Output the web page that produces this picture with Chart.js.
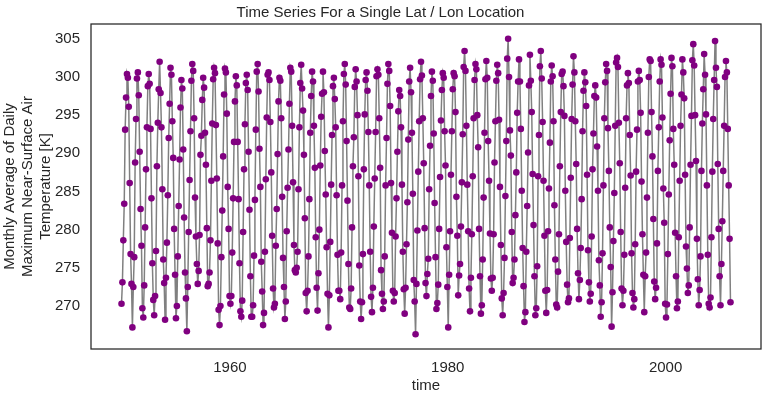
<!DOCTYPE html>
<html>
<head>
<meta charset="utf-8">
<script src="https://cdn.jsdelivr.net/npm/chart.js@4"></script>
<style>
  html, body { margin: 0; padding: 0; background: #fff; }
  canvas { display: block; }
</style>
</head>
<body>
<canvas id="myChart" width="767" height="399"></canvas>
<script>
// monthly tmax [K], one row per year, Jan..Dec
const tmax1950s = [
  270.3, 273.1, 278.6, 283.4, 293.1, 297.3, 300.4, 299.9, 296.1, 286.1, 276.8, 272.9,
  267.2, 272.5, 276.4, 288.8, 294.5, 299.8, 300.6, 297.6, 290.2, 282.7, 277.9, 269.7,
  268.5, 272.7, 280.3, 287.9, 293.4, 298.8, 300.4, 299.1, 293.2, 284.1, 275.6, 270.8,
  268.8, 271.3, 277.2, 288.3, 294.0, 298.4, 302.0, 297.9, 293.4, 285.3, 276.1, 273.0,
  268.2, 273.7, 278.3, 284.5, 292.0, 296.5, 301.2, 300.3, 294.2, 289.4, 280.1, 274.1,
  268.4, 270.0, 276.5, 283.1, 289.2, 296.0, 299.6, 298.5, 290.5, 281.6, 274.4, 271.0,
  266.7, 272.5, 279.7, 286.5, 292.9, 299.5, 301.7, 300.8, 294.6, 284.2, 279.1, 275.5,
  272.9, 274.6, 279.3, 289.8, 292.3, 297.0, 299.9, 298.6, 292.7, 288.5, 280.2, 272.6,
  272.9, 274.4, 278.6, 286.4, 293.9, 299.7, 301.2, 300.5, 293.7, 286.7, 278.2, 269.5,
  267.5, 270.0, 276.4, 282.5, 289.6, 297.7, 301.1, 300.6, 295.2, 285.6, 280.1, 271.3
]
const tmax1960s = [
  270.3, 271.3, 277.0, 284.1, 291.5, 296.8, 300.1, 298.9, 291.5, 284.0, 275.6, 269.3,
  268.6, 270.7, 279.7, 287.9, 293.8, 299.2, 300.3, 298.3, 290.2, 282.6, 273.9, 268.6,
  268.6, 270.1, 276.6, 283.9, 293.1, 300.7, 301.7, 298.1, 290.6, 285.6, 275.8, 271.9,
  267.5, 269.1, 277.1, 286.6, 294.7, 300.3, 300.6, 299.6, 294.1, 287.5, 279.2, 272.3,
  269.8, 270.3, 277.9, 282.7, 289.9, 296.8, 299.9, 299.5, 294.6, 284.3, 276.3, 272.5,
  268.3, 270.6, 279.8, 285.5, 290.5, 296.5, 301.2, 300.7, 293.6, 286.2, 278.0, 274.7,
  274.4, 275.0, 277.1, 285.3, 293.4, 299.2, 301.6, 298.5, 295.6, 289.8, 281.5, 271.7,
  269.3, 272.0, 276.5, 284.0, 292.7, 297.5, 300.7, 299.4, 293.6, 288.1, 279.0, 272.4,
  269.4, 274.3, 280.0, 288.4, 294.8, 297.8, 300.7, 298.0, 290.3, 284.6, 277.7, 271.6,
  267.2, 271.4, 278.4, 285.9, 292.4, 298.8, 299.9, 297.1, 293.4, 284.5, 276.7, 272.0
]
const tmax1970s = [
  272.0, 270.9, 277.0, 285.8, 294.2, 300.4, 301.7, 299.0, 291.6, 283.8, 275.5, 269.8,
  269.6, 272.3, 280.3, 288.3, 292.1, 298.7, 301.0, 299.4, 295.0, 287.0, 275.3, 270.6,
  268.3, 270.5, 276.8, 287.9, 295.1, 299.6, 300.6, 298.2, 292.8, 285.8, 277.1, 271.2,
  269.2, 272.4, 280.4, 286.7, 292.8, 300.1, 301.0, 300.3, 294.6, 288.1, 274.7, 271.6,
  269.6, 270.6, 276.5, 285.8, 292.0, 299.1, 301.7, 300.8, 296.2, 286.1, 279.6, 272.0,
  270.6, 271.7, 279.1, 284.1, 290.2, 295.5, 298.3, 297.5, 293.4, 285.9, 277.1, 272.2,
  269.0, 272.4, 278.1, 283.6, 291.8, 299.4, 301.2, 298.0, 292.7, 284.7, 273.4, 270.6,
  266.3, 272.9, 279.9, 287.6, 294.2, 299.7, 302.0, 300.2, 294.6, 288.7, 280.2, 273.0,
  271.3, 274.2, 276.2, 285.3, 291.0, 297.5, 300.7, 299.5, 292.6, 283.5, 276.4, 269.6,
  270.4, 272.8, 280.1, 286.9, 294.3, 298.3, 300.5, 299.9, 292.9, 288.4, 277.7, 272.5
]
const tmax1980s = [
  267.2, 274.1, 279.8, 287.2, 292.9, 298.4, 300.5, 300.1, 295.4, 284.3, 279.2, 271.4,
  274.0, 275.5, 280.4, 286.2, 292.5, 301.3, 303.4, 300.8, 293.6, 285.9, 279.8, 272.3,
  269.3, 273.7, 279.4, 287.0, 294.6, 299.6, 301.7, 301.0, 295.0, 290.8, 280.1, 273.9,
  269.0, 270.1, 276.1, 284.2, 292.7, 299.7, 302.1, 299.9, 291.6, 286.4, 279.5, 273.6,
  272.0, 273.7, 279.4, 288.8, 294.2, 299.5, 301.6, 300.5, 294.4, 285.6, 278.0, 271.0,
  268.8, 271.7, 276.3, 284.4, 291.6, 302.4, 305.0, 300.0, 293.0, 289.7, 279.7, 273.0,
  273.7, 276.1, 281.9, 287.5, 295.3, 299.4, 302.3, 299.4, 293.2, 285.1, 277.6, 272.6,
  267.9, 269.2, 277.1, 283.1, 290.1, 298.9, 302.9, 299.5, 295.4, 287.3, 280.6, 273.9,
  268.8, 269.7, 275.2, 287.0, 292.4, 301.4, 303.4, 299.8, 294.1, 286.4, 279.2, 272.0,
  269.1, 272.1, 279.8, 285.4, 291.4, 299.4, 301.5, 300.1, 294.2, 283.2, 276.1, 270.2
]
const tmax1990s = [
  269.8, 274.5, 279.4, 288.3, 295.4, 300.4, 300.7, 298.8, 294.9, 285.1, 278.4, 272.8,
  270.5, 271.0, 278.9, 286.8, 294.5, 299.0, 302.7, 300.6, 294.2, 288.6, 280.1, 274.3,
  270.9, 273.4, 277.6, 284.0, 292.9, 298.2, 300.6, 299.3, 296.2, 287.2, 277.3, 273.1,
  270.6, 271.6, 279.1, 287.9, 292.6, 297.5, 298.9, 297.3, 290.9, 285.1, 276.0, 272.7,
  268.6, 270.5, 276.9, 285.8, 294.6, 299.3, 301.7, 300.8, 293.3, 287.7, 280.3, 275.1,
  267.3, 271.8, 278.5, 284.8, 293.6, 301.9, 302.5, 301.3, 294.0, 288.7, 279.7, 272.3,
  270.1, 272.0, 276.7, 285.5, 294.6, 298.9, 300.5, 299.2, 292.4, 287.1, 276.9, 271.7,
  269.8, 270.9, 278.1, 287.6, 293.1, 299.4, 300.8, 299.6, 295.3, 286.3, 279.4, 274.1,
  269.2, 273.9, 277.0, 284.2, 292.7, 300.0, 302.3, 302.1, 295.4, 289.6, 281.4, 273.2,
  270.9, 272.4, 278.2, 287.7, 293.4, 299.4, 302.3, 301.6, 294.7, 285.4, 280.9, 270.3
]
const tmax2000s = [
  268.5, 270.2, 276.8, 284.6, 291.7, 297.8, 302.5, 301.4, 293.2, 288.5, 279.6, 273.9,
  269.7, 270.6, 279.0, 286.4, 293.6, 297.7, 302.3, 300.6, 297.2, 287.2, 277.8, 274.9,
  271.7, 272.7, 280.3, 288.5, 294.9, 302.2, 304.3, 301.5, 295.0, 289.0, 278.8, 273.5,
  270.1, 272.1, 276.5, 287.7, 293.9, 298.4, 303.0, 300.3, 295.1, 285.8, 276.7, 270.3,
  269.8, 271.1, 279.0, 287.6, 294.5, 299.6, 304.7, 301.2, 298.7, 288.6, 280.1, 273.9,
  270.1, 275.5, 281.1, 287.7, 293.6, 300.0, 302.1, 300.6, 293.2, 285.8, 278.8, 270.5
]

const startYear = 1950
const xTicks = [1960, 1980, 2000]
const yTicks = [270, 275, 280, 285, 290, 295, 300, 305]

const allValues = tmax1950s.concat(tmax1960s, tmax1970s, tmax1980s, tmax1990s, tmax2000s)

// mid-month decimal year for each value
let points = []
allValues.forEach((v, i) => {
  points.push({ x: startYear + (i + 0.5) / 12, y: v })
})

const textColor = "#262626"
const fontFam = "'Liberation Sans', Arial, sans-serif"

// box round the plot, like the matplotlib spines
const frame = {
  id: "frame",
  afterDatasetsDraw(chart) {
    const a = chart.chartArea
    const ctx = chart.ctx
    ctx.save()
    ctx.strokeStyle = textColor
    ctx.lineWidth = 1.25
    ctx.strokeRect(a.left, a.top, a.right - a.left, a.bottom - a.top)
    ctx.restore()
  }
}

new Chart("myChart", {
  type: "line",
  data: {
    datasets: [{
      data: points,
      borderColor: "#808080",
      borderWidth: 1.5,
      pointBackgroundColor: "#800080",
      pointBorderColor: "#800080",
      pointRadius: 3.3,
      pointBorderWidth: 0,
      tension: 0
    }]
  },
  options: {
    responsive: false,
    animation: false,
    devicePixelRatio: 1,
    layout: { padding: { top: 0, right: 6, left: 0, bottom: 4 } },
    plugins: {
      legend: { display: false },
      tooltip: { enabled: false },
      title: {
        display: true,
        text: "Time Series For a Single Lat / Lon Location",
        color: textColor,
        font: { family: fontFam, size: 15, weight: "normal" },
        padding: { top: 4, bottom: 2 }
      }
    },
    scales: {
      x: {
        type: "linear",
        min: 1947.24,
        max: 2008.76,
        grid: { display: false, drawTicks: false },
        border: { display: false },
        afterBuildTicks: (s) => { s.ticks = xTicks.map(v => ({ value: v })) },
        ticks: {
          color: textColor,
          font: { family: fontFam, size: 15 },
          padding: 10,
          maxRotation: 0,
          callback: (v) => String(v)
        },
        title: {
          display: true,
          text: "time",
          color: textColor,
          font: { family: fontFam, size: 15 },
          padding: { top: 0, bottom: 0 }
        },
        afterFit: (s) => { s.height = 46 }
      },
      y: {
        min: 264.37,
        max: 306.94,
        grid: { display: false, drawTicks: false },
        border: { display: false },
        afterBuildTicks: (s) => { s.ticks = yTicks.map(v => ({ value: v })) },
        ticks: {
          color: textColor,
          font: { family: fontFam, size: 15 },
          padding: 11
        },
        title: {
          display: true,
          text: ["Monthly Average of Daily", "Maximum Near-Surface Air", "Temperature [K]"],
          color: textColor,
          font: { family: fontFam, size: 15, lineHeight: 1.2 },
          padding: { top: 1, bottom: 0 }
        },
        afterFit: (s) => { s.width = 91 }
      }
    }
  },
  plugins: [frame]
})
</script>
</body>
</html>
